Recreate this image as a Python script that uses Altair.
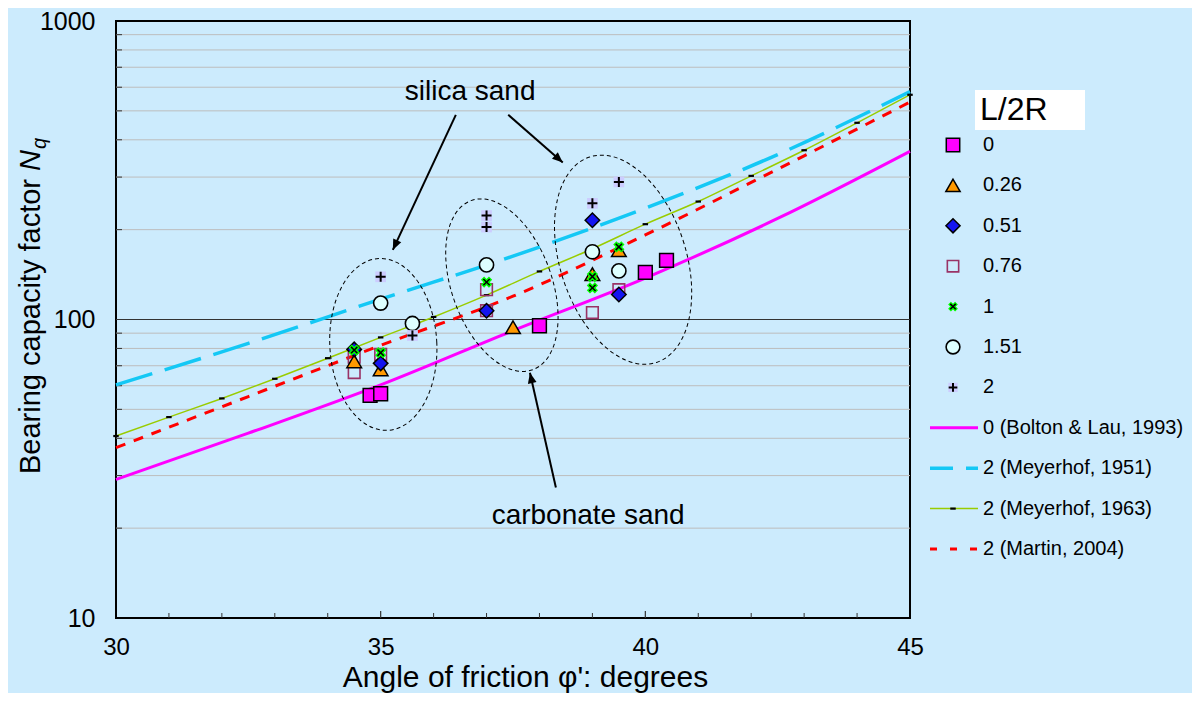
import altair as alt
import pandas as pd

# ---------------- data ----------------
series_labels = ["0", "0.26", "0.51", "0.76", "1", "1.51", "2"]

phi_s0 = [34.8, 35.0, 38.0, 40.0, 40.4]
nq_s0 = [55.7, 56.4, 95.3, 143.9, 157.8]
phi_s026 = [34.5, 35.0, 37.5, 39.0, 39.5]
nq_s026 = [72.4, 68.1, 94.2, 141.9, 170.6]
phi_s051 = [34.5, 35.0, 37.0, 39.0, 39.5]
nq_s051 = [79.4, 71.3, 107.0, 215.0, 121.3]
phi_s076 = [34.5, 34.5, 35.0, 37.0, 37.0, 39.0, 39.5]
nq_s076 = [74.8, 66.4, 76.4, 125.9, 107.0, 105.5, 125.9]
phi_s1 = [34.5, 35.0, 37.0, 39.0, 39.0, 39.5]
nq_s1 = [79.0, 77.4, 133.4, 139.3, 127.6, 175.0]
phi_s151 = [35.0, 35.6, 37.0, 39.0, 39.5]
nq_s151 = [113.5, 97.0, 152.4, 168.6, 145.5]
phi_s2 = [35.0, 35.6, 37.0, 37.0, 39.0, 39.5]
nq_s2 = [139.0, 88.4, 222.9, 204.0, 245.0, 289.0]

curve_labels = ["0 (Bolton & Lau, 1993)", "2 (Meyerhof, 1951)",
                "2 (Meyerhof, 1963)", "2 (Martin, 2004)"]
phi_curve = [30, 32.5, 35, 37.5, 40, 42.5, 45]
nq_bolton = [29.1, 41.6, 60.4, 91.8, 137.7, 218.0, 366.0]
nq_mey51 = [60.4, 83.2, 117.0, 163.0, 236.0, 357.0, 580.0]
nq_martin = [37.2, 55.2, 81.9, 119.7, 192.0, 319.0, 535.0]
phi_mey63 = [30, 31, 32, 33, 34, 35, 36, 37, 38, 39, 40, 41, 42, 43, 44, 45]
nq_mey63 = [40.7, 47.1, 54.4, 63.3, 74.2, 87.1, 102.0, 120.7, 144.9, 172.6,
            208.6, 248.4, 302.8, 369.0, 456.0, 566.0]

anno_texts = ["silica sand", "carbonate sand"]
anno_phi = [36.69, 38.92]
anno_nq = [577.0, 22.0]

arrow_phi = [36.42, 37.41, 38.31]
arrow_nq = [485.0, 485.0, 27.35]
arrow_tip_phi = [35.23, 38.44, 37.82]
arrow_tip_nq = [171.0, 336.0, 66.3]

ellipse_phi = [35.05, 37.29, 39.58]
ellipse_nq = [82.5, 130.3, 158.6]

y_tick_labels = [10, 100, 1000]
x_tick_labels = [30, 35, 40, 45]
grid_minor = [20, 30, 40, 50, 60, 70, 80, 90, 200, 300, 400, 500, 600, 700, 800, 900]
grid_major = [100]
xtick_minor = [31, 32, 33, 34, 36, 37, 38, 39, 41, 42, 43, 44]
xtick_major = [35, 40]

legend_title = "L/2R"
ytitle_parts = ["Bearing capacity factor", "N", "q"]
x_title = "Angle of friction \u03c6': degrees"

# ---------------- styles ----------------
BG = "#CCEBFD"
FONT = "Liberation Sans"
W, H = 794, 597
TOP = 13

x_scale = alt.Scale(domain=[30, 45], nice=False, zero=False)
y_scale = alt.Scale(type="log", domain=[10, 1000], nice=False)
x_axis = alt.Axis(values=x_tick_labels, labelFontSize=24, labelPadding=17, ticks=False,
                  tickSize=0, domain=False, grid=False, labelFlush=False,
                  title=x_title, titleFontSize=30, titleFontWeight="normal", titlePadding=3,
                  titleX=409)
y_axis = alt.Axis(values=y_tick_labels, format="d", labelFontSize=25, labelPadding=21,
                  ticks=False, tickSize=0, domain=False, grid=False, labelFlush=False,
                  title=None)


def X(f="phi"):
    return alt.X(f"{f}:Q", scale=x_scale, axis=x_axis)


def Y(f="nq"):
    return alt.Y(f"{f}:Q", scale=y_scale, axis=y_axis)


XPATH = "M-1,-1L1,1M1,-1L-1,1"
PLUSPATH = "M-1,0L1,0M0,-1L0,1"
TICKPATH = "M-1,-0.4L1,-0.4L1,0.4L-1,0.4Z"
ARROWPATH = "M0,0L-0.42,1L0.42,1Z"

MARKERS = {
    "0": [dict(shape="square", size=190, filled=True, fill="#FF00FF", stroke="black", strokeWidth=1.5)],
    "0.26": [dict(shape="triangle-up", size=215, filled=True, fill="#FF9900", stroke="black", strokeWidth=1.5)],
    "0.51": [dict(shape="diamond", size=210, filled=True, fill="#1414F0", stroke="black", strokeWidth=1.5)],
    "0.76": [dict(shape="square", size=135, filled=False, stroke="#993366", strokeWidth=1.6)],
    "1": [dict(shape="cross", angle=45, size=130, filled=True, fill="#00FF00", strokeWidth=0),
          dict(shape=XPATH, size=40, filled=False, stroke="black", strokeWidth=1.5)],
    "1.51": [dict(shape="circle", size=200, filled=True, fill="#DDFFFF", stroke="black", strokeWidth=1.6)],
    "2": [dict(shape="square", size=115, filled=True, fill="#CCCCFF", strokeWidth=0),
          dict(shape=PLUSPATH, size=100, filled=False, stroke="black", strokeWidth=2)],
}
DRAW_ORDER = ["0.76", "0", "0.26", "0.51", "1", "1.51", "2"]

SERIES_DATA = {
    "0": (phi_s0, nq_s0), "0.26": (phi_s026, nq_s026), "0.51": (phi_s051, nq_s051),
    "0.76": (phi_s076, nq_s076), "1": (phi_s1, nq_s1), "1.51": (phi_s151, nq_s151),
    "2": (phi_s2, nq_s2),
}

LINES = [
    dict(phi=phi_curve, nq=nq_bolton, color="#FF00FF", width=3, dash=None, leg_dash=None, off=0),
    dict(phi=phi_curve, nq=nq_mey51, color="#14C8F5", width=3.5, dash=[38, 13], leg_dash=[38, 13], off=15),
    dict(phi=phi_mey63, nq=nq_mey63, color="#99CC00", width=1.5, dash=None, leg_dash=None, off=0),
    dict(phi=phi_curve, nq=nq_martin, color="#FF0000", width=3, dash=[10, 9], leg_dash=[7, 13], off=0),
]

ELLIPSES = [(86, 53.5, 357), (90, 50, 340), (108, 63, 342)]   # semi-major, semi-minor, angle
ARROW_ANGLES = [204.7, 131.6, 347.4]


def ellipse_path(a, b):
    r = b / a
    return f"M{r:.4f},0A{r:.4f},1,0,1,1,{-r:.4f},0A{r:.4f},1,0,1,1,{r:.4f},0Z"


def marker_charts(df, xenc, yenc, key, scale=1.0):
    out = []
    for spec in MARKERS[key]:
        s = dict(spec)
        s["size"] = s["size"] * scale
        out.append(alt.Chart(df).mark_point(opacity=1, **s).encode(x=xenc, y=yenc))
    return out


# ---------------- main plot layers ----------------
main_layers = []

main_layers.append(
    alt.Chart(pd.DataFrame({"nq": grid_minor})).mark_rule(color="#BDBDBD", strokeWidth=1)
    .encode(y=Y()))
main_layers.append(
    alt.Chart(pd.DataFrame({"nq": grid_major})).mark_rule(color="#333333", strokeWidth=1.2)
    .encode(y=Y()))
main_layers.append(
    alt.Chart(pd.DataFrame({"nq": grid_minor})).mark_rule(color="#333333", strokeWidth=1)
    .encode(y=Y(), x=alt.value(0), x2=alt.value(6)))
main_layers.append(
    alt.Chart(pd.DataFrame({"phi": xtick_minor})).mark_rule(color="#333333", strokeWidth=1)
    .encode(x=X(), y=alt.value(H), y2=alt.value(H - 5)))
main_layers.append(
    alt.Chart(pd.DataFrame({"phi": xtick_major})).mark_rule(color="#333333", strokeWidth=1.2)
    .encode(x=X(), y=alt.value(H), y2=alt.value(H - 7)))

for ln in LINES:
    kw = dict(color=ln["color"], strokeWidth=ln["width"], interpolate="monotone")
    if ln["dash"]:
        kw["strokeDash"] = ln["dash"]
    main_layers.append(
        alt.Chart(pd.DataFrame({"phi": ln["phi"], "nq": ln["nq"]})).mark_line(**kw)
        .encode(x=X(), y=Y()))

main_layers.append(
    alt.Chart(pd.DataFrame({"phi": phi_mey63, "nq": nq_mey63}))
    .mark_point(shape=TICKPATH, size=30, filled=True, fill="black", strokeWidth=0, opacity=1)
    .encode(x=X(), y=Y()))

for key in DRAW_ORDER:
    ph, nq = SERIES_DATA[key]
    main_layers += marker_charts(pd.DataFrame({"phi": ph, "nq": nq}), X(), Y(), key)

for i, (a, b, ang) in enumerate(ELLIPSES):
    main_layers.append(
        alt.Chart(pd.DataFrame({"phi": [ellipse_phi[i]], "nq": [ellipse_nq[i]]}))
        .mark_point(shape=ellipse_path(a, b), size=(2 * a) ** 2, angle=ang, filled=False,
                    stroke="black", strokeWidth=1, strokeDash=[4, 3], opacity=1)
        .encode(x=X(), y=Y()))

arrows_df = pd.DataFrame({"phi": arrow_phi, "nq": arrow_nq,
                          "phi2": arrow_tip_phi, "nq2": arrow_tip_nq})
main_layers.append(
    alt.Chart(arrows_df).mark_rule(color="black", strokeWidth=2)
    .encode(x=X(), y=Y(), x2="phi2:Q", y2="nq2:Q"))
for i, ang in enumerate(ARROW_ANGLES):
    main_layers.append(
        alt.Chart(pd.DataFrame({"phi": [arrow_tip_phi[i]], "nq": [arrow_tip_nq[i]]}))
        .mark_point(shape=ARROWPATH, size=440, angle=ang, filled=True, fill="black",
                    strokeWidth=0, opacity=1)
        .encode(x=X(), y=Y()))

main_layers.append(
    alt.Chart(pd.DataFrame({"t": anno_texts, "phi": anno_phi, "nq": anno_nq}))
    .mark_text(fontSize=28, font=FONT, color="black", align="center", baseline="middle")
    .encode(x=X(), y=Y(), text="t:N"))

# y-axis title drawn as text so that N is italic and q is a subscript
yt_x, yt_y0 = -76, 466 - TOP
yt_len = 303
main_layers.append(
    alt.Chart(pd.DataFrame({"t": [ytitle_parts[0]]}))
    .mark_text(angle=270, align="left", baseline="alphabetic", fontSize=29, font=FONT, color="black")
    .encode(text="t:N", x=alt.value(yt_x), y=alt.value(yt_y0)))
main_layers.append(
    alt.Chart(pd.DataFrame({"t": [ytitle_parts[1]]}))
    .mark_text(angle=270, align="left", baseline="alphabetic", fontSize=29, font=FONT,
               fontStyle="italic", color="black")
    .encode(text="t:N", x=alt.value(yt_x), y=alt.value(yt_y0 - yt_len)))
main_layers.append(
    alt.Chart(pd.DataFrame({"t": [ytitle_parts[2]]}))
    .mark_text(angle=270, align="left", baseline="alphabetic", fontSize=20, font=FONT,
               fontStyle="italic", color="black")
    .encode(text="t:N", x=alt.value(yt_x + 6), y=alt.value(yt_y0 - yt_len - 22)))

main = alt.layer(*main_layers)

# ---------------- legend panel (own scales, right of the plot) ----------------
# rows are 40.4 px apart, first row at page y = 145
row0 = 145 - (8 + TOP)
lx_scale = alt.Scale(domain=[-809, -15], nice=False, zero=False)
ly_scale = alt.Scale(domain=[-row0 / 40.4, (H - row0) / 40.4], nice=False, zero=False, reverse=True)


def LX(f="lx"):
    return alt.X(f"{f}:Q", scale=lx_scale, axis=None)


def LY(f="ly"):
    return alt.Y(f"{f}:Q", scale=ly_scale, axis=None)


SYM_X, TXT_X, LINE_X0, LINE_X1 = 28, 58, 5, 53
legend_layers = []
legend_layers.append(
    alt.Chart(pd.DataFrame({"lx": [50], "lx2": [160], "ly": [-1.361], "ly2": [-0.371]}))
    .mark_rect(fill="white").encode(x=LX(), x2="lx2:Q", y=LY(), y2="ly2:Q"))
legend_layers.append(
    alt.Chart(pd.DataFrame({"t": [legend_title], "lx": [55], "ly": [-0.866]}))
    .mark_text(align="left", baseline="middle", fontSize=32, font=FONT, color="black")
    .encode(x=LX(), y=LY(), text="t:N"))

for i, key in enumerate(series_labels):
    df = pd.DataFrame({"lx": [SYM_X], "ly": [i]})
    sc = 0.75 if key in ("1", "2") else 0.95
    legend_layers += marker_charts(df, LX(), LY(), key, scale=sc)

for j, ln in enumerate(LINES):
    kw = dict(color=ln["color"], strokeWidth=ln["width"])
    if ln["leg_dash"]:
        kw["strokeDash"] = ln["leg_dash"]
        kw["strokeDashOffset"] = ln["off"]
    legend_layers.append(
        alt.Chart(pd.DataFrame({"lx": [LINE_X0], "lx2": [LINE_X1], "ly": [7 + j]}))
        .mark_rule(**kw).encode(x=LX(), x2="lx2:Q", y=LY()))
legend_layers.append(
    alt.Chart(pd.DataFrame({"lx": [SYM_X], "ly": [9]}))
    .mark_point(shape=TICKPATH, size=30, filled=True, fill="black", strokeWidth=0, opacity=1)
    .encode(x=LX(), y=LY()))

all_labels = series_labels + curve_labels
legend_layers.append(
    alt.Chart(pd.DataFrame({"t": all_labels, "lx": [TXT_X] * len(all_labels),
                            "ly": list(range(len(all_labels)))}))
    .mark_text(align="left", baseline="middle", fontSize=20, font=FONT, color="black")
    .encode(x=LX(), y=LY(), text="t:N"))

legend = alt.layer(*legend_layers)

chart = (
    alt.layer(main, legend)
    .resolve_scale(x="independent", y="independent")
    .properties(width=W, height=H, background=BG,
                autosize=alt.AutoSizeParams(type="none"),
                padding={"left": 108, "top": TOP, "right": 282, "bottom": 685 - TOP - H})
    .configure_view(fill=BG, stroke="black", strokeWidth=2)
    .configure_axis(labelFont=FONT, titleFont=FONT, labelColor="black", titleColor="black")
)

chart.save("out.html", embed_options={"renderer": "svg", "actions": False})
